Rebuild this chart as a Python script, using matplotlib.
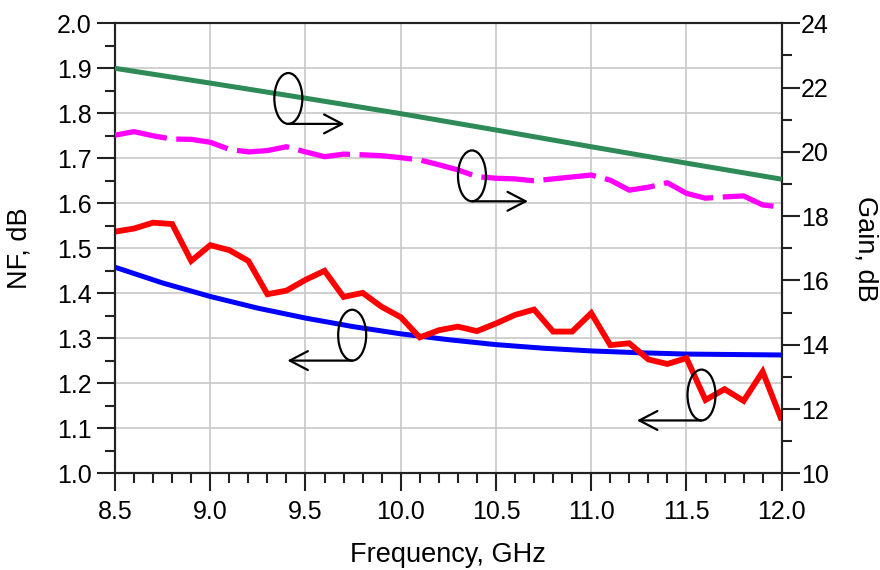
import matplotlib
matplotlib.use("Agg")
import matplotlib.pyplot as plt
from matplotlib.patches import Ellipse
from matplotlib.ticker import MultipleLocator, FormatStrFormatter

plt.rcParams['font.family'] = ['Liberation Sans', 'DejaVu Sans']

# ---------------- data ----------------
freq_meas = [8.5, 8.6, 8.7, 8.8, 8.9, 9.0, 9.1, 9.2, 9.3, 9.4, 9.5, 9.6, 9.7, 9.8, 9.9,
             10.0, 10.1, 10.2, 10.3, 10.4, 10.5, 10.6, 10.7, 10.8, 10.9, 11.0, 11.1,
             11.2, 11.3, 11.4, 11.5, 11.6, 11.7, 11.8, 11.9, 12.0]
nf_meas = [1.537, 1.544, 1.557, 1.554, 1.472, 1.507, 1.496, 1.472, 1.398, 1.406, 1.430,
           1.450, 1.392, 1.401, 1.370, 1.347, 1.302, 1.318, 1.326, 1.316, 1.333, 1.352,
           1.364, 1.315, 1.315, 1.356, 1.285, 1.289, 1.253, 1.243, 1.256, 1.163, 1.187,
           1.161, 1.226, 1.118]
gain_meas = [20.52, 20.63, 20.50, 20.40, 20.39, 20.30, 20.08, 20.00, 20.04, 20.16, 20.00,
             19.85, 19.93, 19.91, 19.88, 19.82, 19.75, 19.60, 19.44, 19.23, 19.18, 19.16,
             19.10, 19.16, 19.22, 19.28, 19.12, 18.81, 18.90, 19.04, 18.71, 18.56, 18.60,
             18.63, 18.35, 18.28]

freq_sim_nf = [8.5, 8.75, 9.0, 9.25, 9.5, 9.75, 10.0, 10.25, 10.5, 10.75, 11.0,
               11.25, 11.5, 11.75, 12.0]
nf_sim = [1.458, 1.423, 1.393, 1.367, 1.345, 1.326, 1.310, 1.297, 1.286, 1.278, 1.272,
          1.268, 1.265, 1.264, 1.263]

freq_sim_gain = [8.5, 9.0, 9.5, 10.0, 10.5, 11.0, 11.5, 12.0]
gain_sim = [22.60, 22.14, 21.67, 21.19, 20.68, 20.16, 19.65, 19.15]

x_ticks = [8.5, 9.0, 9.5, 10.0, 10.5, 11.0, 11.5, 12.0]
nf_ticks = [1.0, 1.1, 1.2, 1.3, 1.4, 1.5, 1.6, 1.7, 1.8, 1.9, 2.0]
gain_ticks = [10, 12, 14, 16, 18, 20, 22, 24]

# ---------------- figure ----------------
fig = plt.figure(figsize=(8.8, 5.7), dpi=100)
ax = fig.add_axes([0.1307, 0.1696, 0.8883 - 0.1307, 0.9591 - 0.1696])
ax2 = ax.twinx()

FS_TICK = 18
FS_LAB = 19.5
lw_spine = 1.5

ax.set_xlim(8.5, 12.0)
ax.set_ylim(1.0, 2.0)
ax2.set_ylim(10, 24)

ax.set_xticks(x_ticks)
ax.set_yticks(nf_ticks)
ax2.set_yticks(gain_ticks)
ax.xaxis.set_major_formatter(FormatStrFormatter('%.1f'))
ax.yaxis.set_major_formatter(FormatStrFormatter('%.1f'))
ax.xaxis.set_minor_locator(MultipleLocator(0.1))
ax.yaxis.set_minor_locator(MultipleLocator(0.05))
ax2.yaxis.set_minor_locator(MultipleLocator(1))

ax.grid(True, which='major', color='#c4c4c4', linewidth=1.1)
ax.set_axisbelow(True)

for a in (ax, ax2):
    for s in a.spines.values():
        s.set_linewidth(lw_spine)
        s.set_color('#222222')

ax.tick_params(axis='x', which='major', direction='out', length=13, width=1.5,
               labelsize=FS_TICK, color='#222222', pad=6)
ax.tick_params(axis='y', which='major', direction='out', length=13, width=1.5,
               labelsize=FS_TICK, color='#222222', pad=4)
ax.tick_params(axis='both', which='minor', direction='out', length=7, width=1.5,
               color='#222222')
ax2.tick_params(axis='y', which='major', direction='out', length=13, width=1.5,
                labelsize=FS_TICK, color='#222222', pad=1)
ax2.tick_params(axis='y', which='minor', direction='out', length=7, width=1.5,
                color='#222222')

# lines
ax.plot(freq_sim_nf, nf_sim, color='#0000ff', linewidth=3.6, zorder=3,
        solid_capstyle='butt')
ax.plot(freq_meas, nf_meas, color='#ff0000', linewidth=4.2, zorder=4,
        solid_joinstyle='miter', solid_capstyle='butt')
ax2.plot(freq_sim_gain, gain_sim, color='#2e8b57', linewidth=3.6, zorder=3,
         solid_capstyle='butt')
ax2.plot(freq_meas, gain_meas, color='#ff00ff', linewidth=3.8, zorder=3,
         dashes=(10, 1.8), dash_capstyle='butt')

# labels
ax.set_xlabel('Frequency, GHz', fontsize=FS_LAB, va='center')
ax.xaxis.set_label_coords(0.5, -0.1816)
ax.set_ylabel('NF, dB', fontsize=FS_LAB, va='center')
ax.yaxis.set_label_coords(-0.1432, 0.5)
ax2.set_ylabel('Gain, dB', fontsize=FS_LAB, rotation=270, va='center')
ax2.yaxis.set_label_coords(1.1264, 0.5)

# annotation ellipses with arrows (positions in NF-axis data coordinates)
ell_w, ell_h = 0.147, 0.113
annots = [
    # (center x, center y, arrow end x)
    (9.410, 1.833, 9.705),
    (10.374, 1.661, 10.668),
    (9.745, 1.307, 9.405),
    (11.579, 1.174, 11.240),
]
for cx, cy, ex in annots:
    e = Ellipse((cx, cy), ell_w, ell_h, transform=ax.transData, fill=False,
                edgecolor='black', linewidth=1.6, zorder=6)
    ax2.add_patch(e)
    yb = cy - ell_h / 2
    ax2.annotate('', xy=(ex, yb), xytext=(cx, yb), xycoords=ax.transData,
                 textcoords=ax.transData,
                 arrowprops=dict(arrowstyle='->,head_length=0.65,head_width=0.34',
                                 color='black', linewidth=1.6, shrinkA=0, shrinkB=0,
                                 mutation_scale=20),
                 zorder=6)

fig.savefig('out.png', dpi=100)
